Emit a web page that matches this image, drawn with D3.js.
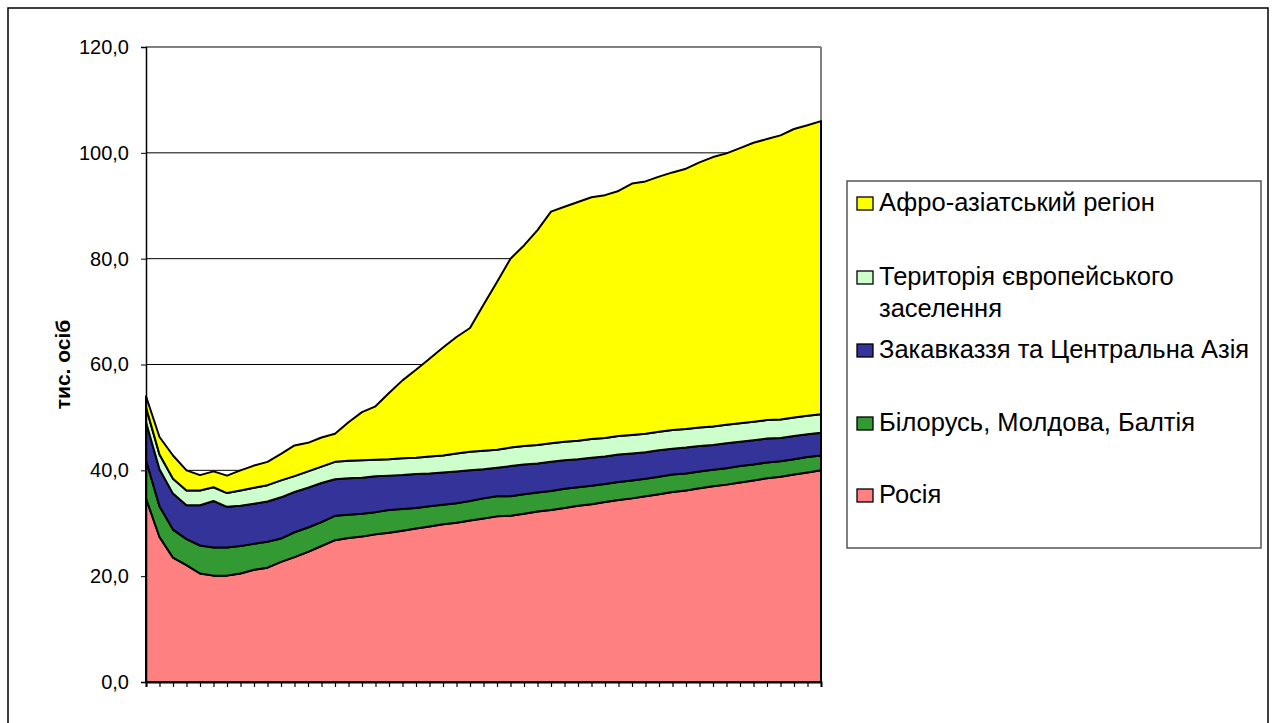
<!DOCTYPE html>
<html>
<head>
<meta charset="utf-8">
<script src="https://cdn.jsdelivr.net/npm/d3@7"></script>
<style>
html,body{margin:0;padding:0;background:#fff;}
svg{display:block;font-family:"Liberation Sans",Arial,sans-serif;}
</style>
</head>
<body>
<svg id="chart" width="1276" height="723"></svg>
<script>
// ---- data (тис. осіб) ----
const points = d3.range(51); // unlabeled category axis (51 periods)
const yTicks = [0, 20, 40, 60, 80, 100, 120];
const seriesNames = ["Росія", "Білорусь, Молдова, Балтія", "Закавказзя та Центральна Азія", "Територія європейського заселення", "Афро-азіатський регіон"];
const russia = [34.7,27.4,23.5,22.1,20.5,20.1,20.1,20.5,21.2,21.6,22.7,23.6,24.6,25.7,26.8,27.2,27.5,27.9,28.2,28.6,29.0,29.4,29.8,30.1,30.5,30.9,31.3,31.4,31.8,32.2,32.5,32.9,33.3,33.6,34.0,34.4,34.7,35.1,35.5,35.9,36.2,36.6,37.0,37.3,37.7,38.1,38.5,38.8,39.2,39.6,40.0];
const belarusMoldovaBaltic = [7.2,5.8,5.3,4.9,5.3,5.3,5.3,5.2,4.9,4.9,4.4,4.7,4.6,4.5,4.6,4.4,4.3,4.2,4.3,4.1,3.9,3.8,3.7,3.7,3.7,3.8,3.8,3.7,3.7,3.6,3.6,3.6,3.5,3.5,3.4,3.4,3.4,3.3,3.3,3.3,3.2,3.2,3.1,3.1,3.1,3.0,3.0,2.9,2.9,2.9,2.8];
const caucasusCentralAsia = [7.2,7.0,6.8,6.4,7.6,8.8,7.7,7.6,7.6,7.6,7.8,7.6,7.5,7.4,6.9,6.9,6.8,6.8,6.5,6.4,6.4,6.2,6.1,6.0,5.8,5.5,5.4,5.7,5.6,5.5,5.5,5.4,5.3,5.3,5.2,5.2,5.1,5.0,5.0,4.9,4.9,4.8,4.7,4.7,4.6,4.6,4.5,4.4,4.4,4.3,4.3];
const europeanSettlement = [2.8,2.8,2.8,2.8,2.8,2.6,2.6,2.9,3.0,3.1,3.2,3.0,3.1,3.1,3.3,3.3,3.3,3.1,3.1,3.2,3.1,3.2,3.2,3.4,3.5,3.5,3.4,3.5,3.5,3.5,3.5,3.5,3.5,3.5,3.5,3.5,3.5,3.5,3.5,3.5,3.5,3.5,3.5,3.5,3.5,3.5,3.5,3.5,3.5,3.5,3.5];
const afroAsian = [2.1,3.3,4.4,3.8,2.9,3.0,3.3,3.8,4.2,4.4,5.0,5.8,5.4,5.5,5.3,7.3,9.1,10.1,12.5,14.7,16.6,18.5,20.4,22.0,23.4,27.6,31.7,35.7,37.9,40.6,43.8,44.4,45.1,45.7,45.9,46.3,47.5,47.7,48.2,48.7,49.2,50.1,50.9,51.3,52.0,52.7,53.1,53.7,54.5,54.9,55.4];
const colors = ["#FF8080", "#339933", "#333399", "#CCFFCC", "#FFFF00"];

// ---- build table ----
const keys = ["r", "b", "c", "e", "a"];
const table = points.map((p, i) => ({
  p, r: russia[i], b: belarusMoldovaBaltic[i], c: caucasusCentralAsia[i], e: europeanSettlement[i], a: afroAsian[i]
}));
const stacked = d3.stack().keys(keys)(table);

// ---- layout ----
const svg = d3.select("#chart");
const L = 146, R = 821, T = 47, B = 682;
const x = d3.scaleLinear().domain([0, points.length - 1]).range([L, R]);
const y = d3.scaleLinear().domain([0, 120]).range([B, T]);

svg.append("rect").attr("width", 1276).attr("height", 723).attr("fill", "#fff");
// outer frame
svg.append("rect").attr("x", 8).attr("y", 8).attr("width", 1260).attr("height", 740)
  .attr("fill", "none").attr("stroke", "#000").attr("stroke-width", 1.5);

// gridlines
svg.append("g").selectAll("line").data(yTicks.filter(v => v > 0)).join("line")
  .attr("x1", L).attr("x2", R).attr("y1", d => y(d)).attr("y2", d => y(d))
  .attr("stroke", d => d === 120 ? "#808080" : "#000").attr("stroke-width", d => d === 120 ? 2 : 1);
// right plot border
svg.append("line").attr("x1", R).attr("x2", R).attr("y1", T).attr("y2", B)
  .attr("stroke", "#808080").attr("stroke-width", 2);

// areas
const area = d3.area().x(d => x(d.data.p)).y0(d => y(d[0])).y1(d => y(d[1]));
svg.append("g").selectAll("path").data(stacked).join("path")
  .attr("d", area)
  .attr("fill", (d, i) => colors[i])
  .attr("stroke", "#000").attr("stroke-width", 2).attr("stroke-linejoin", "round");

// y axis
const yAxis = d3.axisLeft(y).tickValues(yTicks).tickSize(5).tickPadding(12)
  .tickFormat(d => d3.format(".1f")(d).replace(".", ","));
const gy = svg.append("g").attr("transform", `translate(${L},0)`).call(yAxis);
gy.select(".domain").attr("stroke", "#000").attr("stroke-width", 1.5);
gy.selectAll(".tick line").attr("stroke", "#000");
gy.selectAll("text").attr("font-size", 20).attr("fill", "#000")
  .attr("font-family", "Liberation Sans, Arial, sans-serif");

// x axis (unlabeled ticks)
const xAxis = d3.axisBottom(x).tickValues(points).tickSize(5).tickFormat("");
const gx = svg.append("g").attr("transform", `translate(0,${B})`).call(xAxis);
gx.select(".domain").attr("stroke", "#000").attr("stroke-width", 2);
gx.selectAll(".tick line").attr("stroke", "#000").attr("stroke-width", 1.2);

// axis title
svg.append("text").attr("transform", `translate(62,${(T + B) / 2}) rotate(-90)`)
  .attr("text-anchor", "middle").attr("dominant-baseline", "central")
  .attr("font-size", 21).attr("font-weight", "bold").attr("fill", "#000")
  .text("тис. осіб");

// legend
const lg = svg.append("g");
lg.append("rect").attr("x", 847).attr("y", 181).attr("width", 414).attr("height", 367)
  .attr("fill", "#fff").attr("stroke", "#555").attr("stroke-width", 1.5);
const legendRows = [
  {s: 4, lines: ["Афро-азіатський регіон"], base: 211},
  {s: 3, lines: ["Територія європейського", "заселення"], base: 285},
  {s: 2, lines: ["Закавказзя та Центральна Азія"], base: 358},
  {s: 1, lines: ["Білорусь, Молдова, Балтія"], base: 431},
  {s: 0, lines: ["Росія"], base: 503}
];
legendRows.forEach(r => {
  lg.append("rect").attr("x", 857).attr("y", r.base - 14).attr("width", 16).attr("height", 13)
    .attr("fill", colors[r.s]).attr("stroke", "#000").attr("stroke-width", 1.3);
  const t = lg.append("text").attr("x", 879).attr("y", r.base).attr("font-size", 25.5).attr("fill", "#000");
  r.lines.forEach((ln, j) => t.append("tspan").attr("x", 879).attr("dy", j === 0 ? 0 : 32).text(ln));
});
</script>
</body>
</html>
